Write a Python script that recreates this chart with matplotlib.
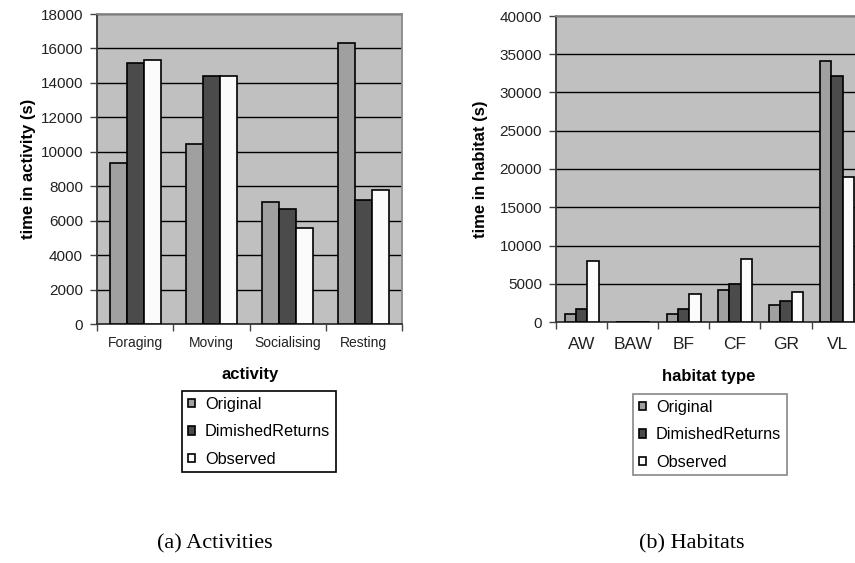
import matplotlib.pyplot as plt
import numpy as np

plt.rcParams['font.family'] = ['Liberation Sans', 'DejaVu Sans']

# time spent per activity (s)
activities = ["Foraging", "Moving", "Socialising", "Resting"]
act_original = [9340, 10460, 7060, 16340]
act_diminished = [15140, 14390, 6690, 7190]
act_observed = [15310, 14420, 5550, 7790]

# time spent per habitat type (s)
habitats = ["AW", "BAW", "BF", "CF", "GR", "VL"]
hab_original = [1090, 0, 1050, 4180, 2270, 34070]
hab_diminished = [1700, 0, 1700, 4970, 2790, 32200]
hab_observed = [7930, 0, 3700, 8280, 3880, 18950]

series_names = ["Original", "DimishedReturns", "Observed"]
series_colors = ["#a0a0a0", "#4b4b4b", "#fbfbfb"]

W, H = 855, 563


def fx(px):
    return px / W


def fy(py):
    return 1 - py / H


def bar_panel(ax, cats, series, ymax, ystep, catsize, catpad):
    x = np.arange(len(cats))
    w = 1 / 4.5
    ax.set_facecolor("#c0c0c0")
    for i, vals in enumerate(series):
        ax.bar(x + (i - 1) * w, vals, w, color=series_colors[i], edgecolor="black",
               linewidth=1.2, label=series_names[i], zorder=3)
    ax.set_xlim(-0.5, len(cats) - 0.5)
    ax.set_ylim(0, ymax)
    ax.set_yticks(np.arange(0, ymax + 1, ystep))
    # category separators as major ticks, names on minor ticks
    ax.set_xticks(np.arange(len(cats) + 1) - 0.5)
    ax.set_xticklabels([])
    ax.set_xticks(x, minor=True)
    ax.set_xticklabels(cats, minor=True, fontsize=catsize, color="#222222")
    ax.tick_params(axis="x", which="minor", length=0, pad=catpad)
    ax.tick_params(axis="x", which="major", length=5, width=1, color="#444444")
    ax.tick_params(axis="y", length=5, width=1, color="#444444", labelsize=11,
                   pad=5, labelcolor="#222222")
    ax.yaxis.grid(True, color="black", linewidth=1)
    ax.set_axisbelow(True)
    ax.spines["left"].set_color("#333333")
    ax.spines["bottom"].set_color("#333333")
    ax.spines["top"].set_color("#8a8a8a")
    ax.spines["right"].set_color("#8a8a8a")
    for s in ax.spines.values():
        s.set_linewidth(1.3)


def add_legend(ax, left, top, edge):
    leg = ax.legend(loc="upper left", bbox_to_anchor=(fx(left), fy(top)),
                    bbox_transform=fig.transFigure, borderaxespad=0,
                    fontsize=11.7, handlelength=0.45, handleheight=0.45,
                    handletextpad=0.6, labelspacing=0.77, borderpad=0.35,
                    fancybox=False, framealpha=1)
    leg.get_frame().set_edgecolor(edge)
    leg.get_frame().set_linewidth(1.2)


fig = plt.figure(figsize=(W / 100, H / 100), dpi=100)

ax1 = fig.add_axes([fx(97), fy(324), (402 - 97) / W, (324 - 14) / H])
bar_panel(ax1, activities, [act_original, act_diminished, act_observed],
          18000, 2000, 10, 9)
ax1.set_ylabel("time in activity (s)", fontsize=12, fontweight="bold")
ax1.yaxis.set_label_coords(-0.2, 0.5)
fig.text(fx(250), fy(374), "activity", fontsize=12, fontweight="bold",
         ha="center", va="center")
add_legend(ax1, 182, 391, "black")

ax2 = fig.add_axes([fx(556), fy(322), 306.6 / W, (322 - 16) / H])
bar_panel(ax2, habitats, [hab_original, hab_diminished, hab_observed],
          40000, 5000, 12.5, 10.5)
ax2.set_ylabel("time in habitat (s)", fontsize=12, fontweight="bold")
ax2.yaxis.set_label_coords(-0.222, 0.5)
fig.text(fx(709), fy(377), "habitat type", fontsize=12, fontweight="bold",
         ha="center", va="center")
add_legend(ax2, 633, 394, "#888888")

fig.text(fx(215), fy(544), "(a) Activities", fontsize=16, family="Liberation Serif",
         ha="center", va="center")
fig.text(fx(692), fy(544), "(b) Habitats", fontsize=16, family="Liberation Serif",
         ha="center", va="center")

fig.savefig("out.png", dpi=100)
